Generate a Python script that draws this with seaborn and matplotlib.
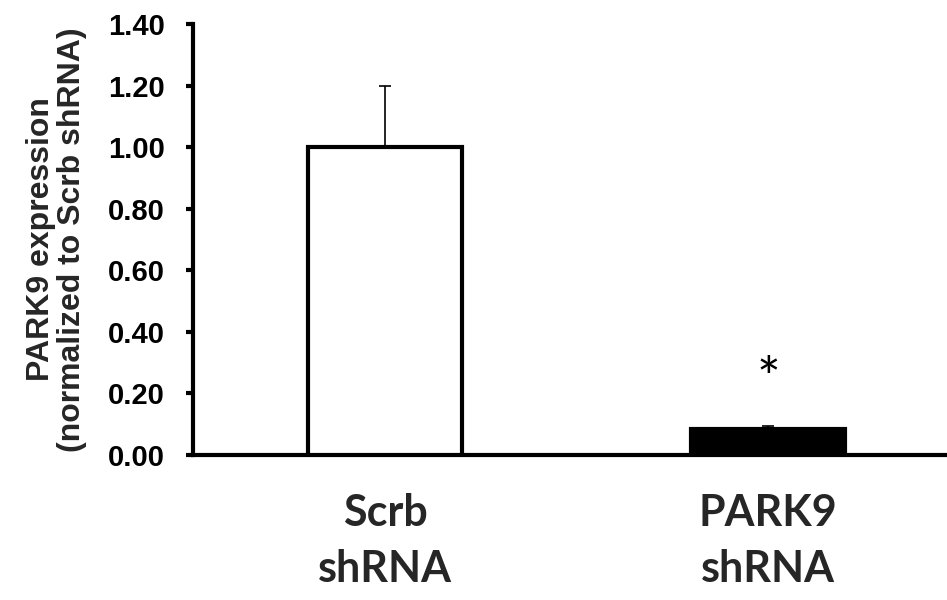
import matplotlib
matplotlib.use("Agg")
import matplotlib.pyplot as plt
import seaborn as sns
import pandas as pd

categories = ["Scrb\nshRNA", "PARK9\nshRNA"]
values = [1.00, 0.085]
errors_upper = [0.20, 0.008]
bar_colors = ["white", "black"]
yticks = [0.00, 0.20, 0.40, 0.60, 0.80, 1.00, 1.20, 1.40]
significance = ["", "*"]
sig_y = [None, 0.24]

sns.set_theme(style="white")
plt.rcParams["font.family"] = ["Liberation Sans", "DejaVu Sans"]

df = pd.DataFrame({"group": categories, "value": values})

fig = plt.figure(figsize=(9.47, 6.0), dpi=100)
ax = fig.add_axes([193/947, 1-455/600, 1-193/947, (455-24)/600])

sns.barplot(data=df, x="group", y="value", hue="group", palette=bar_colors,
            edgecolor="black", linewidth=3, width=0.40, legend=False, ax=ax,
            errorbar=None, zorder=3)

for i, (v, e) in enumerate(zip(values, errors_upper)):
    ax.errorbar(i, v, yerr=[[0], [e]], fmt="none", ecolor="black",
                elinewidth=1.2, capsize=4.5, capthick=1.2, zorder=2)

for i, s in enumerate(significance):
    if s:
        ax.text(i, sig_y[i], s, ha="center", va="center", fontsize=40,
                family=["Lato", "DejaVu Sans"], color="black")

ax.set_ylim(0, 1.40)
ax.set_xlim(-0.501, 1.467)
ax.set_yticks(yticks)
ax.set_yticklabels([f"{t:.2f}" for t in yticks], fontsize=21, fontweight="bold")
ax.set_xticks(range(len(categories)))
ax.set_xticklabels(categories, fontsize=31, fontweight="bold",
                   family=["Lato", "DejaVu Sans"], linespacing=1.5)
ax.tick_params(axis="x", length=0, pad=27)
ax.tick_params(axis="y", direction="out", length=5, width=3, left=True, pad=15, colors="black")
ax.set_xlabel("")
ax.set_ylabel("PARK9 expression\n(normalized to Scrb shRNA)", fontsize=23,
              fontweight="bold", linespacing=1.08, labelpad=15)

for side in ["top", "right"]:
    ax.spines[side].set_visible(False)
for side in ["left", "bottom"]:
    ax.spines[side].set_linewidth(3)
    ax.spines[side].set_color("black")
ax.set_facecolor("white")
fig.patch.set_facecolor("white")

fig.savefig("out.png", dpi=100)
